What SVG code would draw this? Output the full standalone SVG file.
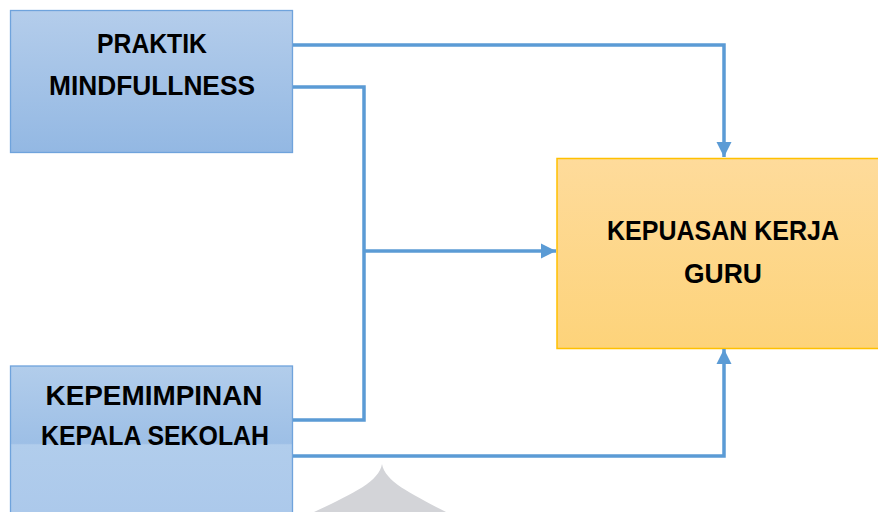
<svg xmlns="http://www.w3.org/2000/svg" width="878" height="512" viewBox="0 0 878 512">
<style>
.lbl{font-family:"Liberation Sans",Arial,sans-serif;font-weight:bold;font-size:28px;fill:#000;text-anchor:middle}
.conn{fill:none;stroke:#5b9bd5;stroke-width:3.5}
.blue{stroke:#6fa3dc;stroke-width:1.3}
.orange{stroke:#ffc000;stroke-width:1.5}
</style>
<defs>
<linearGradient id="g1" x1="0" y1="0" x2="0" y2="1">
<stop offset="0" stop-color="#b4cdeb"/>
<stop offset="1" stop-color="#93b8e3"/>
</linearGradient>
<linearGradient id="g2" gradientUnits="userSpaceOnUse" x1="0" y1="366" x2="0" y2="512">
<stop offset="0" stop-color="#b2cdeb"/>
<stop offset="0.53" stop-color="#9dbfe6"/>
<stop offset="0.54" stop-color="#b1cdec"/>
<stop offset="1" stop-color="#acc9eb"/>
</linearGradient>
<linearGradient id="g3" x1="0" y1="0" x2="0" y2="1">
<stop offset="0" stop-color="#fedb9b"/>
<stop offset="1" stop-color="#fdd37a"/>
</linearGradient>
<marker id="arr" viewBox="0 0 10 10" refX="10" refY="5" markerUnits="userSpaceOnUse" markerWidth="15" markerHeight="16" orient="auto">
<path d="M0,0 L10,5 L0,10 Z" fill="#5b9bd5"/>
</marker>
</defs>
<path d="M382,464 C379,482 352,494 314,512 L446,512 C412,494 385,482 382,464 Z" fill="#d3d4d8"/>
<g id="node-praktik">
<rect x="10.5" y="10.5" width="282" height="142" fill="url(#g1)" class="blue"/>
<text class="lbl" x="152" y="53" textLength="110" lengthAdjust="spacingAndGlyphs">PRAKTIK</text>
<text class="lbl" x="152" y="95" textLength="206" lengthAdjust="spacingAndGlyphs">MINDFULLNESS</text>
</g>
<g id="node-kepemimpinan">
<rect x="10.5" y="366" width="282" height="150" fill="url(#g2)" class="blue"/>
<text class="lbl" x="154" y="405" textLength="217" lengthAdjust="spacingAndGlyphs">KEPEMIMPINAN</text>
<text class="lbl" x="155" y="445" textLength="228" lengthAdjust="spacingAndGlyphs">KEPALA SEKOLAH</text>
</g>
<g id="node-kepuasan">
<rect x="557" y="158.5" width="330" height="190" fill="url(#g3)" class="orange"/>
<text class="lbl" x="723" y="240" textLength="232" lengthAdjust="spacingAndGlyphs">KEPUASAN KERJA</text>
<text class="lbl" x="723" y="283" textLength="78" lengthAdjust="spacingAndGlyphs">GURU</text>
</g>
<g id="connectors">
<path class="conn" d="M293,45 H724 V157" marker-end="url(#arr)"/>
<path class="conn" d="M293,87 H364 V420 H293"/>
<path class="conn" d="M364,251 H556" marker-end="url(#arr)"/>
<path class="conn" d="M293,456 H724 V349" marker-end="url(#arr)"/>
</g>
</svg>
